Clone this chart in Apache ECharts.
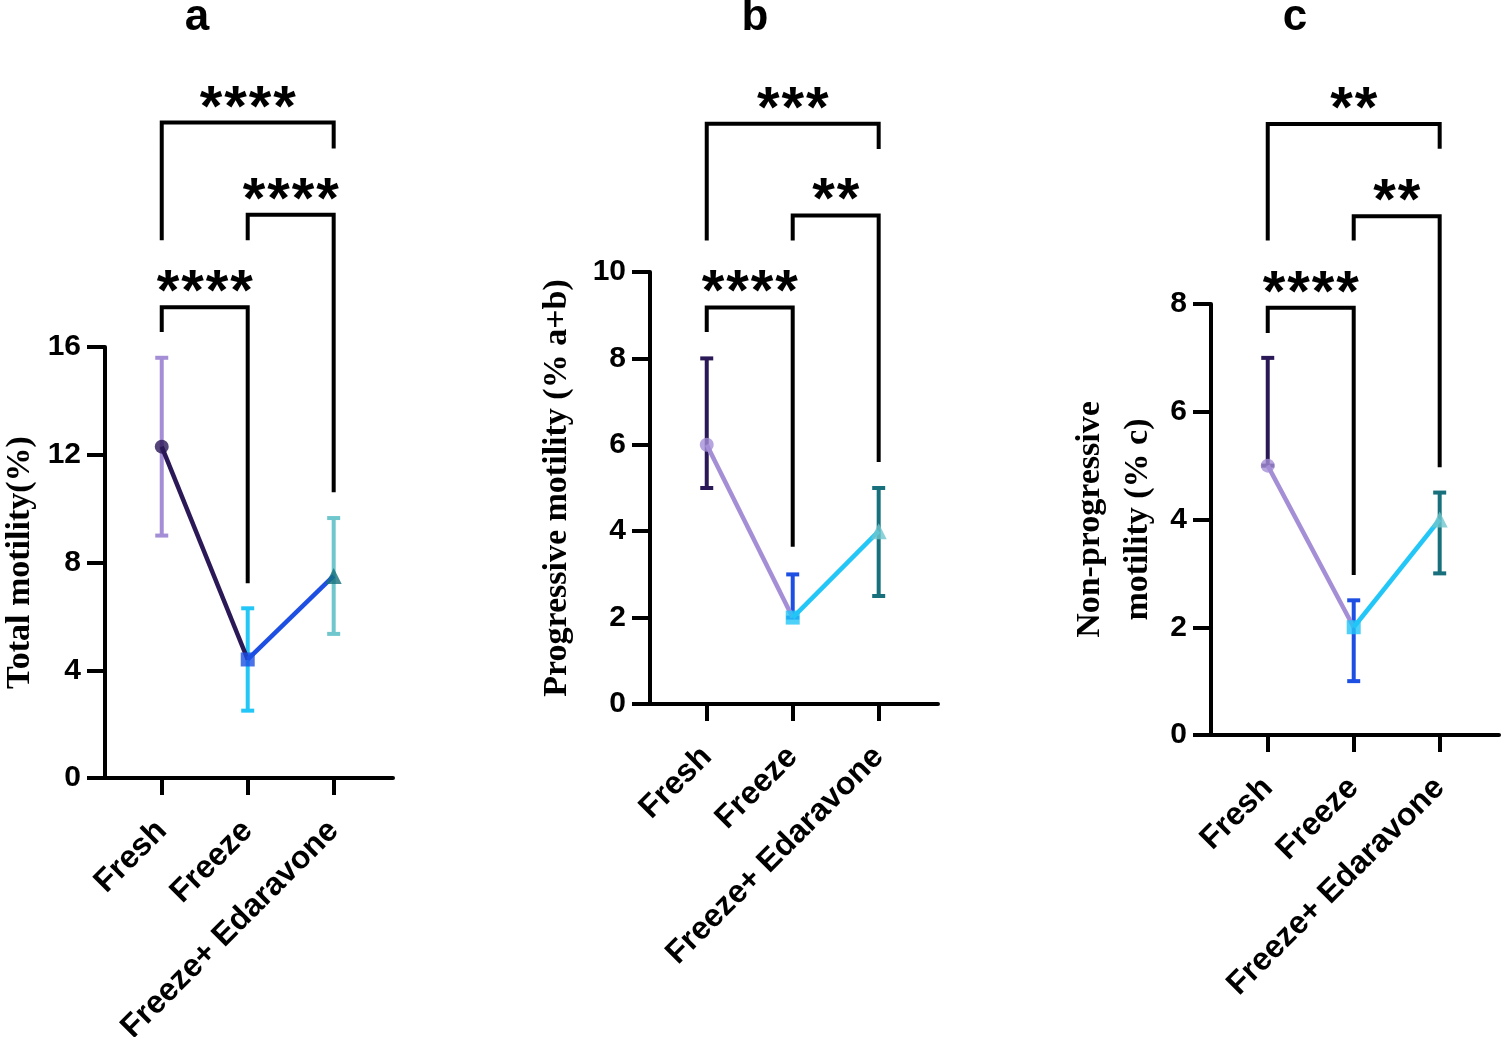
<!DOCTYPE html>
<html>
<head>
<meta charset="utf-8">
<title>Motility</title>
<script src="https://cdn.jsdelivr.net/npm/echarts@6/dist/echarts.min.js"></script>
<style>
  html, body { margin: 0; padding: 0; background: #fff; }
  #chart { width: 1502px; height: 1037px; }
</style>
</head>
<body>
<div id="chart"></div>
<script>
// groups on the x axis
const groups = ['Fresh', 'Freeze', 'Freeze+ Edaravone']

// a: total motility
const totalMean = [12.3, 4.4, 7.5]
const totalLow = [9.0, 2.5, 5.35]
const totalHigh = [15.6, 6.3, 9.65]

// b: progressive motility
const progMean = [6, 2, 4]
const progLow = [5, 2, 2.5]
const progHigh = [8, 3, 5]

// c: non-progressive motility
const nonProgMean = [5, 2, 4]
const nonProgLow = [5, 1, 3]
const nonProgHigh = [7, 2.5, 4.5]

// significance brackets: [from, to, level, left leg end, right leg end]
const totalBrackets = [[0, 1, 17.48, 16.56, 7.23], [1, 2, 20.91, 19.96, 10.61], [0, 2, 24.33, 19.96, 23.37]]
const totalStars = [4, 4, 4]
const progBrackets = [[0, 1, 9.18, 8.61, 3.64], [1, 2, 11.31, 10.73, 5.6], [0, 2, 13.43, 10.73, 12.85]]
const progStars = [4, 2, 3]
const nonProgBrackets = [[0, 1, 7.93, 7.46, 2.97], [1, 2, 9.63, 9.18, 4.97], [0, 2, 11.34, 9.18, 10.88]]
const nonProgStars = [4, 2, 2]

// colours
const darkPurple = '#2b1857'
const lightPurple = '#a48ed6'
const blue = '#1d4fe3'
const cyan = '#22c6f7'
const teal = '#17707c'
const lightTeal = '#6fc6cd'

const shapes = ['circle', 'rect', 'triangle']
const sizes = [14, 14, 16]

const sansBold = '"Liberation Sans", Arial, sans-serif'

const panels = [
  {
    mean: totalMean, low: totalLow, high: totalHigh, brackets: totalBrackets, stars: totalStars,
    max: 16, interval: 4, name: 'Total motility(%)', nameGap: 61,
    grid: { left: 105, top: 347, width: 288, height: 431 },
    markerColors: [darkPurple, blue, teal],
    barColors: [lightPurple, cyan, lightTeal],
  },
  {
    mean: progMean, low: progLow, high: progHigh, brackets: progBrackets, stars: progStars,
    max: 10, interval: 2, name: 'Progressive motility (% a+b)', nameGap: 69,
    grid: { left: 650, top: 272, width: 288, height: 432 },
    markerColors: [lightPurple, cyan, lightTeal],
    barColors: [darkPurple, blue, teal],
  },
  {
    mean: nonProgMean, low: nonProgLow, high: nonProgHigh, brackets: nonProgBrackets, stars: nonProgStars,
    max: 8, interval: 2, name: 'Non-progressive\nmotility (% c)', nameGap: 49,
    grid: { left: 1211, top: 304, width: 288, height: 431 },
    markerColors: [lightPurple, cyan, lightTeal],
    barColors: [darkPurple, blue, teal],
  },
]

const grids = []
const xAxes = []
const yAxes = []
const series = []

panels.forEach((p, k) => {
  grids.push(Object.assign({ containLabel: false, outerBoundsMode: 'none' }, p.grid))
  xAxes.push({
    type: 'value',
    gridIndex: k,
    min: -0.66,
    max: 2.69,
    splitLine: { show: false },
    axisLine: { show: true, lineStyle: { color: '#000', width: 4 } },
    axisTick: { show: true, customValues: [0, 1, 2], length: 17, lineStyle: { color: '#000', width: 4 } },
    axisLabel: {
      customValues: [0, 1, 2],
      formatter: v => groups[Math.round(v)],
      rotate: 45,
      margin: 48,
      color: '#000',
      fontFamily: sansBold,
      fontWeight: 'bold',
      fontSize: 32,
    },
  })
  yAxes.push({
    type: 'value',
    gridIndex: k,
    min: 0,
    max: p.max,
    interval: p.interval,
    name: p.name,
    nameLocation: 'middle',
    nameRotate: 90,
    nameGap: p.nameGap,
    nameTextStyle: {
      color: '#000',
      fontFamily: 'Liberation Serif, Times New Roman, serif',
      fontWeight: 'bold',
      fontSize: 34,
      lineHeight: 48,
    },
    splitLine: { show: false },
    axisLine: { show: true, onZero: false, lineStyle: { color: '#000', width: 4 } },
    axisTick: { show: true, length: 18, lineStyle: { color: '#000', width: 4 } },
    axisLabel: {
      margin: 24,
      color: '#000',
      fontFamily: sansBold,
      fontWeight: 'bold',
      fontSize: 30,
    },
  })

  // error bars
  series.push({
    type: 'custom',
    xAxisIndex: k,
    yAxisIndex: k,
    z: 1,
    clip: false,
    data: groups.map((g, i) => [i, p.low[i], p.high[i]]),
    renderItem: (params, api) => {
      const x = api.value(0)
      const lo = api.coord([x, api.value(1)])
      const hi = api.coord([x, api.value(2)])
      const c = p.barColors[params.dataIndex]
      const cap = 6.5
      const style = { stroke: c, lineWidth: 4 }
      return {
        type: 'group',
        children: [
          { type: 'line', shape: { x1: lo[0], y1: lo[1], x2: hi[0], y2: hi[1] }, style },
          { type: 'line', shape: { x1: hi[0] - cap, y1: hi[1], x2: hi[0] + cap, y2: hi[1] }, style },
          { type: 'line', shape: { x1: lo[0] - cap, y1: lo[1], x2: lo[0] + cap, y2: lo[1] }, style },
        ],
      }
    },
  })

  // connecting segments, each in the colour of the point it starts from
  for (let i = 0; i < groups.length - 1; i++) {
    series.push({
      type: 'line',
      xAxisIndex: k,
      yAxisIndex: k,
      z: 2,
      symbol: 'none',
      data: [[i, p.mean[i]], [i + 1, p.mean[i + 1]]],
      lineStyle: { color: p.markerColors[i], width: 4.5 },
    })
  }

  // mean markers
  series.push({
    type: 'scatter',
    xAxisIndex: k,
    yAxisIndex: k,
    z: 3,
    data: groups.map((g, i) => ({
      value: [i, p.mean[i]],
      symbol: shapes[i],
      symbolSize: sizes[i],
      itemStyle: { color: p.markerColors[i] },
    })),
  })

  // significance brackets with their asterisks
  series.push({
    type: 'custom',
    xAxisIndex: k,
    yAxisIndex: k,
    z: 4,
    clip: false,
    data: p.brackets,
    renderItem: (params, api) => {
      const x1 = api.value(0), x2 = api.value(1), lv = api.value(2)
      const a = api.coord([x1, api.value(3)])
      const b = api.coord([x1, lv])
      const c = api.coord([x2, lv])
      const d = api.coord([x2, api.value(4)])
      const n = p.stars[params.dataIndex]
      const mid = (b[0] + c[0]) / 2
      const children = [{
        type: 'polyline',
        shape: { points: [a, b, c, d] },
        style: { stroke: '#000', lineWidth: 4, fill: null },
      }]
      for (let j = 0; j < n; j++) {
        children.push({
          type: 'text',
          x: mid + (j - (n - 1) / 2) * 24.5,
          y: b[1] - 13,
          style: {
            text: '*',
            fill: '#000',
            font: 'bold 58px ' + sansBold,
            align: 'center',
            verticalAlign: 'middle',
          },
        })
      }
      return { type: 'group', children }
    },
  })
})

const titleFont = 'bold 44px ' + sansBold
const chart = echarts.init(document.getElementById('chart'))
chart.setOption({
  animation: false,
  backgroundColor: '#fff',
  grid: grids,
  xAxis: xAxes,
  yAxis: yAxes,
  series: series,
  graphic: [
    { type: 'text', x: 197, y: 18, style: { text: 'a', font: titleFont, fill: '#000', align: 'center', verticalAlign: 'middle' } },
    { type: 'text', x: 755, y: 18, style: { text: 'b', font: titleFont, fill: '#000', align: 'center', verticalAlign: 'middle' } },
    { type: 'text', x: 1295, y: 18, style: { text: 'c', font: titleFont, fill: '#000', align: 'center', verticalAlign: 'middle' } },
  ],
})
</script>
</body>
</html>
